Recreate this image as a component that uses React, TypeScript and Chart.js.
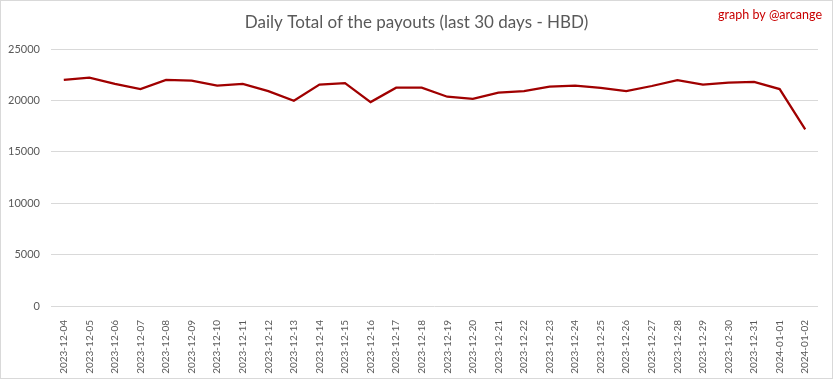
import React, { useEffect, useRef } from "react";
import { Chart, registerables } from "chart.js";

Chart.register(...registerables);

const TITLE = "Daily Total of the payouts (last 30 days - HBD)";
const CREDIT = "graph by @arcange";

const dates: string[] = [
  "2023-12-04", "2023-12-05", "2023-12-06", "2023-12-07", "2023-12-08",
  "2023-12-09", "2023-12-10", "2023-12-11", "2023-12-12", "2023-12-13",
  "2023-12-14", "2023-12-15", "2023-12-16", "2023-12-17", "2023-12-18",
  "2023-12-19", "2023-12-20", "2023-12-21", "2023-12-22", "2023-12-23",
  "2023-12-24", "2023-12-25", "2023-12-26", "2023-12-27", "2023-12-28",
  "2023-12-29", "2023-12-30", "2023-12-31", "2024-01-01", "2024-01-02",
];

const payouts: number[] = [
  21990, 22210, 21600, 21100, 22000,
  21920, 21430, 21600, 20900, 19970,
  21530, 21690, 19840, 21240, 21240,
  20360, 20140, 20750, 20910, 21330,
  21430, 21210, 20910, 21400, 21980,
  21530, 21720, 21790, 21100, 17190,
];

const yTicks: number[] = [0, 5000, 10000, 15000, 20000, 25000];

const FONT = "Lato, 'Open Sans', sans-serif";

export default function App() {
  const ref = useRef<HTMLCanvasElement | null>(null);

  useEffect(() => {
    document.body.style.margin = "0";
    const canvas = ref.current;
    if (!canvas) return;

    const decor = {
      id: "decor",
      beforeDraw(chart: any) {
        const ctx = chart.ctx;
        ctx.save();
        ctx.fillStyle = "#ffffff";
        ctx.fillRect(0, 0, chart.width, chart.height);
        ctx.restore();
      },
      afterDraw(chart: any) {
        const ctx = chart.ctx;
        ctx.save();
        ctx.strokeStyle = "#d9d9d9";
        ctx.lineWidth = 1;
        ctx.strokeRect(0.5, 0.5, chart.width - 1, chart.height - 1);
        ctx.fillStyle = "#595959";
        ctx.font = `17px ${FONT}`;
        ctx.textAlign = "center";
        ctx.textBaseline = "middle";
        ctx.fillText(TITLE, chart.width / 2, 23);
        ctx.fillStyle = "#c80000";
        ctx.font = `12.5px ${FONT}`;
        ctx.textAlign = "right";
        ctx.fillText(CREDIT, 822, 15);
        ctx.restore();
      },
    };

    const chart = new Chart(canvas, {
      type: "line",
      data: {
        labels: dates,
        datasets: [
          {
            data: payouts,
            borderColor: "#a00000",
            backgroundColor: "#a00000",
            borderWidth: 2.25,
            pointRadius: 0,
            tension: 0,
            fill: false,
          },
        ],
      },
      options: {
        animation: false,
        responsive: false,
        maintainAspectRatio: false,
        layout: { padding: { top: 49, right: 15, left: 0, bottom: 0 } },
        plugins: {
          legend: { display: false },
          title: { display: false },
          tooltip: { enabled: false },
        },
        scales: {
          x: {
            offset: true,
            grid: { display: false },
            border: { display: false },
            ticks: {
              minRotation: 90,
              maxRotation: 90,
              autoSkip: false,
              padding: 6,
              color: "#595959",
              font: { family: FONT, size: 10 },
            },
            afterFit(scale: any) {
              scale.height = 73;
            },
          },
          y: {
            min: 0,
            max: 25000,
            afterBuildTicks(scale: any) {
              scale.ticks = yTicks.map((v) => ({ value: v }));
            },
            grid: { color: "#d9d9d9", drawTicks: false, lineWidth: 1 },
            border: { display: false },
            ticks: {
              padding: 11,
              color: "#595959",
              font: { family: FONT, size: 11 },
              callback: (v: any) => String(v),
            },
            afterFit(scale: any) {
              scale.width = 51;
            },
          },
        },
      },
      plugins: [decor],
    });

    return () => chart.destroy();
  }, []);

  return (
    <div style={{ width: 833, height: 379 }}>
      <canvas ref={ref} width={833} height={379} style={{ display: "block" }} />
    </div>
  );
}
